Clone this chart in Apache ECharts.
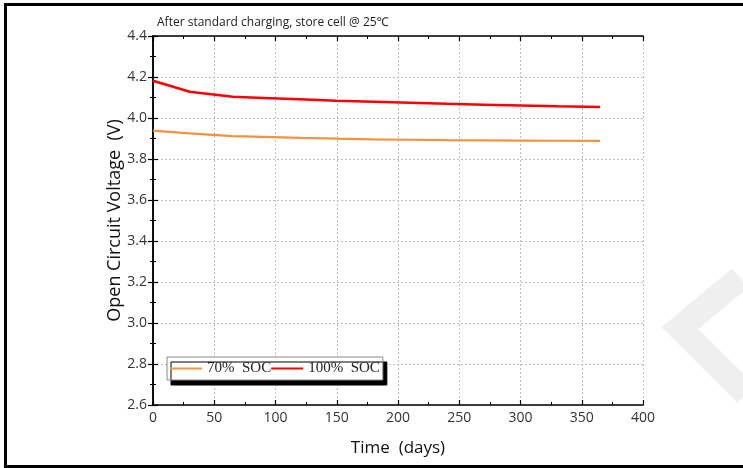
<!DOCTYPE html>
<html><head><meta charset="utf-8">
<script src="https://cdn.jsdelivr.net/npm/echarts@6/dist/echarts.min.js"></script>
<style>html,body{margin:0;padding:0;background:#fff}#c{width:743px;height:468px}</style>
</head><body><div id="c"></div>
<script>
const days = [0, 30, 65, 90, 120, 150, 180, 210, 240, 270, 300, 330, 365];
const soc100 = [4.182, 4.128, 4.104, 4.098, 4.091, 4.084, 4.079, 4.074, 4.069, 4.065, 4.061, 4.057, 4.054];
const soc70 = [3.938, 3.925, 3.912, 3.908, 3.903, 3.899, 3.896, 3.894, 3.892, 3.891, 3.890, 3.889, 3.888];
const seriesNames = ['70%  SOC', '100%  SOC'];
const titleText = 'After standard charging, store cell @ 25\u2103';
const xName = 'Time  (days)';
const yName = 'Open Circuit Voltage  (V)';

const chart = echarts.init(document.getElementById('c'));
const font = 'Open Sans, Noto Sans, sans-serif';
const axisLine = {show: true, lineStyle: {color: '#000', width: 1.5}};
const tickIn = {show: true, inside: true, length: 5, lineStyle: {color: '#000', width: 1.2}};
const minorIn = {show: true, splitNumber: 2, length: 3, lineStyle: {color: '#000', width: 1}};
const dashGrid = {show: true, lineStyle: {color: '#bdbdbd', type: [2, 2], width: 1}};

chart.setOption({
  animation: false,
  backgroundColor: '#fff',
  title: {text: titleText, left: 152, top: 12, textStyle: {fontFamily: font, fontSize: 12, fontWeight: 'normal', color: '#222'}},
  grid: {left: 153, right: 100, top: 36, bottom: 63},
  legend: {
    data: seriesNames, left: 167, top: 357, orient: 'horizontal',
    itemGap: 0, itemWidth: 32, itemHeight: 2, icon: 'rect',
    padding: [4, 3, 4, 3],
    backgroundColor: '#fff', borderColor: '#888', borderWidth: 1,
    shadowColor: '#000', shadowBlur: 0, shadowOffsetX: 4, shadowOffsetY: 5,
    textStyle: {fontFamily: 'Liberation Serif, serif', fontSize: 15, color: '#222'}
  },
  xAxis: [{
    type: 'value', min: 0, max: 400, interval: 50, position: 'bottom',
    name: xName, nameLocation: 'middle', nameGap: 35, nameMoveOverlap: false,
    nameTextStyle: {fontFamily: font, fontSize: 17, color: '#111'},
    axisLine, axisTick: tickIn, minorTick: minorIn, splitLine: dashGrid,
    axisLabel: {fontFamily: font, fontSize: 14, color: '#333', margin: 6}
  }, {
    type: 'value', min: 0, max: 400, interval: 50, position: 'top',
    axisLine, axisTick: tickIn, minorTick: minorIn, splitLine: {show: false}, axisLabel: {show: false}
  }],
  yAxis: [{
    type: 'value', min: 2.6, max: 4.4, interval: 0.2, position: 'left',
    name: yName, nameLocation: 'middle', nameGap: 29, nameRotate: 90, nameMoveOverlap: false,
    nameTextStyle: {fontFamily: font, fontSize: 18, color: '#111'},
    axisLine, axisTick: tickIn, minorTick: minorIn, splitLine: dashGrid,
    axisLabel: {fontFamily: font, fontSize: 14, color: '#333', margin: 6, formatter: v => v.toFixed(1)}
  }, {
    type: 'value', min: 2.6, max: 4.4, interval: 0.2, position: 'right',
    axisLine, axisTick: tickIn, minorTick: minorIn, splitLine: {show: false}, axisLabel: {show: false}
  }],
  graphic: [
    {type: 'polyline', silent: true, z: -1, shape: {points: [[740, 278], [680, 328], [746, 394]]}, style: {stroke: '#efefef', lineWidth: 25, fill: null}},
    {type: 'line', shape: {x1: 5.5, y1: 4.5, x2: 743, y2: 4.5}, style: {stroke: '#000', lineWidth: 3}},
    {type: 'line', shape: {x1: 5.5, y1: 3, x2: 5.5, y2: 468}, style: {stroke: '#000', lineWidth: 3}},
    {type: 'line', shape: {x1: 4, y1: 466.5, x2: 743, y2: 466.5}, style: {stroke: '#000', lineWidth: 3}}
  ],
  series: [{
    name: seriesNames[0], type: 'line', showSymbol: false, symbol: 'none',
    data: days.map((d, i) => [d, soc70[i]]),
    lineStyle: {color: '#f5923e', width: 2.2}, itemStyle: {color: '#f5923e'}
  }, {
    name: seriesNames[1], type: 'line', showSymbol: false, symbol: 'none',
    data: days.map((d, i) => [d, soc100[i]]),
    lineStyle: {color: '#ff0000', width: 2.5}, itemStyle: {color: '#ff0000'}
  }]
});
</script></body></html>
